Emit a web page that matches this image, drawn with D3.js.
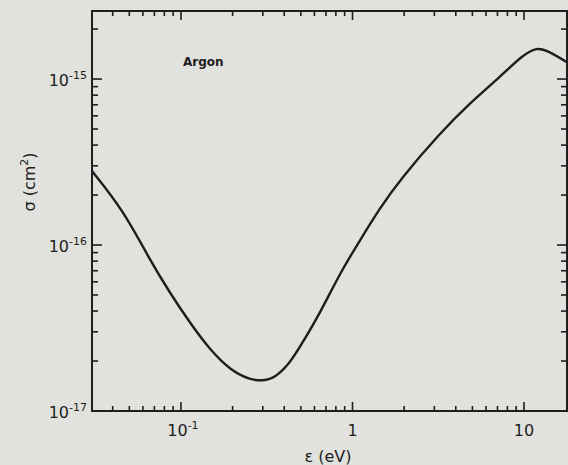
<!DOCTYPE html>
<html>
<head>
<meta charset="utf-8">
<script src="https://cdn.jsdelivr.net/npm/d3@7"></script>
<style>
  body { margin: 0; background: #e1e1dd; }
  svg { display: block; }
  .tick-label { font-family: "DejaVu Sans", sans-serif; fill: #1e1e1e; }
</style>
</head>
<body>
<svg width="568" height="465"></svg>
<script>
// electron energy (eV) and momentum transfer cross section (cm^2)
const energy = [0.0303, 0.0459, 0.0659, 0.0863, 0.113, 0.148, 0.193, 0.252, 0.301, 0.353,
  0.432, 0.494, 0.647, 0.846, 1.107, 1.446, 1.89, 3.24, 4.84, 7.24, 9.86, 11.9, 13.6, 18.1]
const sigma = [2.79e-16, 1.63e-16, 8.13e-17, 5.14e-17, 3.39e-17, 2.33e-17, 1.77e-17, 1.54e-17,
  1.52e-17, 1.58e-17, 1.95e-17, 2.43e-17, 3.89e-17, 6.78e-17, 1.07e-16, 1.67e-16, 2.47e-16,
  4.73e-16, 7.17e-16, 1.03e-15, 1.40e-15, 1.55e-15, 1.49e-15, 1.25e-15]

const xMajor = [0.1, 1, 10]
const xMajorLabels = [['10', '-1'], ['1', ''], ['10', '']]
const yMajor = [1e-17, 1e-16, 1e-15]
const yMajorLabels = [['10', '-17'], ['10', '-16'], ['10', '-15']]

const svg = d3.select('svg')

const plotLeft = 92, plotRight = 567, plotTop = 11, plotBottom = 411

const xScale = d3.scaleLog()
  .domain([0.0303, 17.8])
  .range([plotLeft, plotRight])

const yScale = d3.scaleLog()
  .domain([1e-17, 2.57e-15])
  .range([plotBottom, plotTop])

// minor ticks: 2..9 in each decade
const xMinor = []
for (let d = 0.01; d <= 10; d *= 10) {
  for (let m = 2; m <= 9; m++) {
    const v = +(m * d).toPrecision(3)
    if (v > 0.0303 && v < 17.8) xMinor.push(v)
  }
}
const yMinor = []
for (let d = 1e-17; d <= 1e-15; d *= 10) {
  for (let m = 2; m <= 9; m++) {
    const v = m * d
    if (v < 2.57e-15) yMinor.push(v)
  }
}

const ink = '#1e1e1e'

// frame
svg.append('rect')
  .attr('x', plotLeft)
  .attr('y', plotTop)
  .attr('width', plotRight - plotLeft)
  .attr('height', plotBottom - plotTop)
  .attr('fill', 'none')
  .attr('stroke', ink)
  .attr('stroke-width', 2)

// inward ticks on all four sides
const addXTicks = (vals, len) => {
  svg.append('g').selectAll('line')
    .data(vals).enter().append('line')
    .attr('x1', (d) => xScale(d)).attr('x2', (d) => xScale(d))
    .attr('y1', plotBottom).attr('y2', plotBottom - len)
    .attr('stroke', ink).attr('stroke-width', 1.6)
  svg.append('g').selectAll('line')
    .data(vals).enter().append('line')
    .attr('x1', (d) => xScale(d)).attr('x2', (d) => xScale(d))
    .attr('y1', plotTop).attr('y2', plotTop + len)
    .attr('stroke', ink).attr('stroke-width', 1.6)
}
const addYTicks = (vals, len) => {
  svg.append('g').selectAll('line')
    .data(vals).enter().append('line')
    .attr('y1', (d) => yScale(d)).attr('y2', (d) => yScale(d))
    .attr('x1', plotLeft).attr('x2', plotLeft + len)
    .attr('stroke', ink).attr('stroke-width', 1.6)
  svg.append('g').selectAll('line')
    .data(vals).enter().append('line')
    .attr('y1', (d) => yScale(d)).attr('y2', (d) => yScale(d))
    .attr('x1', plotRight).attr('x2', plotRight - len)
    .attr('stroke', ink).attr('stroke-width', 1.6)
}
addXTicks(xMajor, 9)
addXTicks(xMinor, 5)
addYTicks(yMajor, 10)
addYTicks(yMinor, 6)

// tick labels
xMajor.forEach((v, i) => {
  const t = svg.append('text')
    .attr('class', 'tick-label')
    .attr('x', xScale(v) + (xMajorLabels[i][1] ? 2 : 0))
    .attr('y', 436)
    .attr('text-anchor', 'middle')
    .style('font-size', '16px')
  t.append('tspan').text(xMajorLabels[i][0])
  if (xMajorLabels[i][1]) {
    t.append('tspan').attr('dy', -7).style('font-size', '11px').text(xMajorLabels[i][1])
  }
})

yMajor.forEach((v, i) => {
  const t = svg.append('text')
    .attr('class', 'tick-label')
    .attr('x', 87)
    .attr('y', yScale(v) + 7)
    .attr('text-anchor', 'end')
    .style('font-size', '16px')
  t.append('tspan').text(yMajorLabels[i][0])
  t.append('tspan').attr('dy', -7).style('font-size', '11px').text(yMajorLabels[i][1])
})

// curve
const line = d3.line()
  .x((d) => xScale(d[0]))
  .y((d) => yScale(d[1]))
  .curve(d3.curveBasis)

const clip = svg.append('clipPath').attr('id', 'plot-clip')
clip.append('rect')
  .attr('x', plotLeft).attr('y', plotTop)
  .attr('width', plotRight - plotLeft).attr('height', plotBottom - plotTop)

svg.append('path')
  .datum(energy.map((e, i) => [e, sigma[i]]))
  .attr('clip-path', 'url(#plot-clip)')
  .attr('d', line)
  .attr('fill', 'none')
  .attr('stroke', ink)
  .attr('stroke-width', 2.4)

// axis titles
svg.append('text')
  .attr('class', 'tick-label')
  .attr('x', 328)
  .attr('y', 462)
  .attr('text-anchor', 'middle')
  .style('font-size', '16px')
  .text('\u03b5 (eV)')

const yTitle = svg.append('text')
  .attr('class', 'tick-label')
  .attr('transform', 'translate(35, 182) rotate(-90)')
  .attr('text-anchor', 'middle')
  .style('font-size', '16px')
yTitle.append('tspan').text('\u03c3 (cm')
yTitle.append('tspan').attr('dy', -7).style('font-size', '11px').text('2')
yTitle.append('tspan').attr('dy', 7).text(')')

svg.append('text')
  .attr('class', 'tick-label')
  .attr('x', 183)
  .attr('y', 66)
  .style('font-size', '12px')
  .style('font-weight', 'bold')
  .text('Argon')
</script>
</body>
</html>
